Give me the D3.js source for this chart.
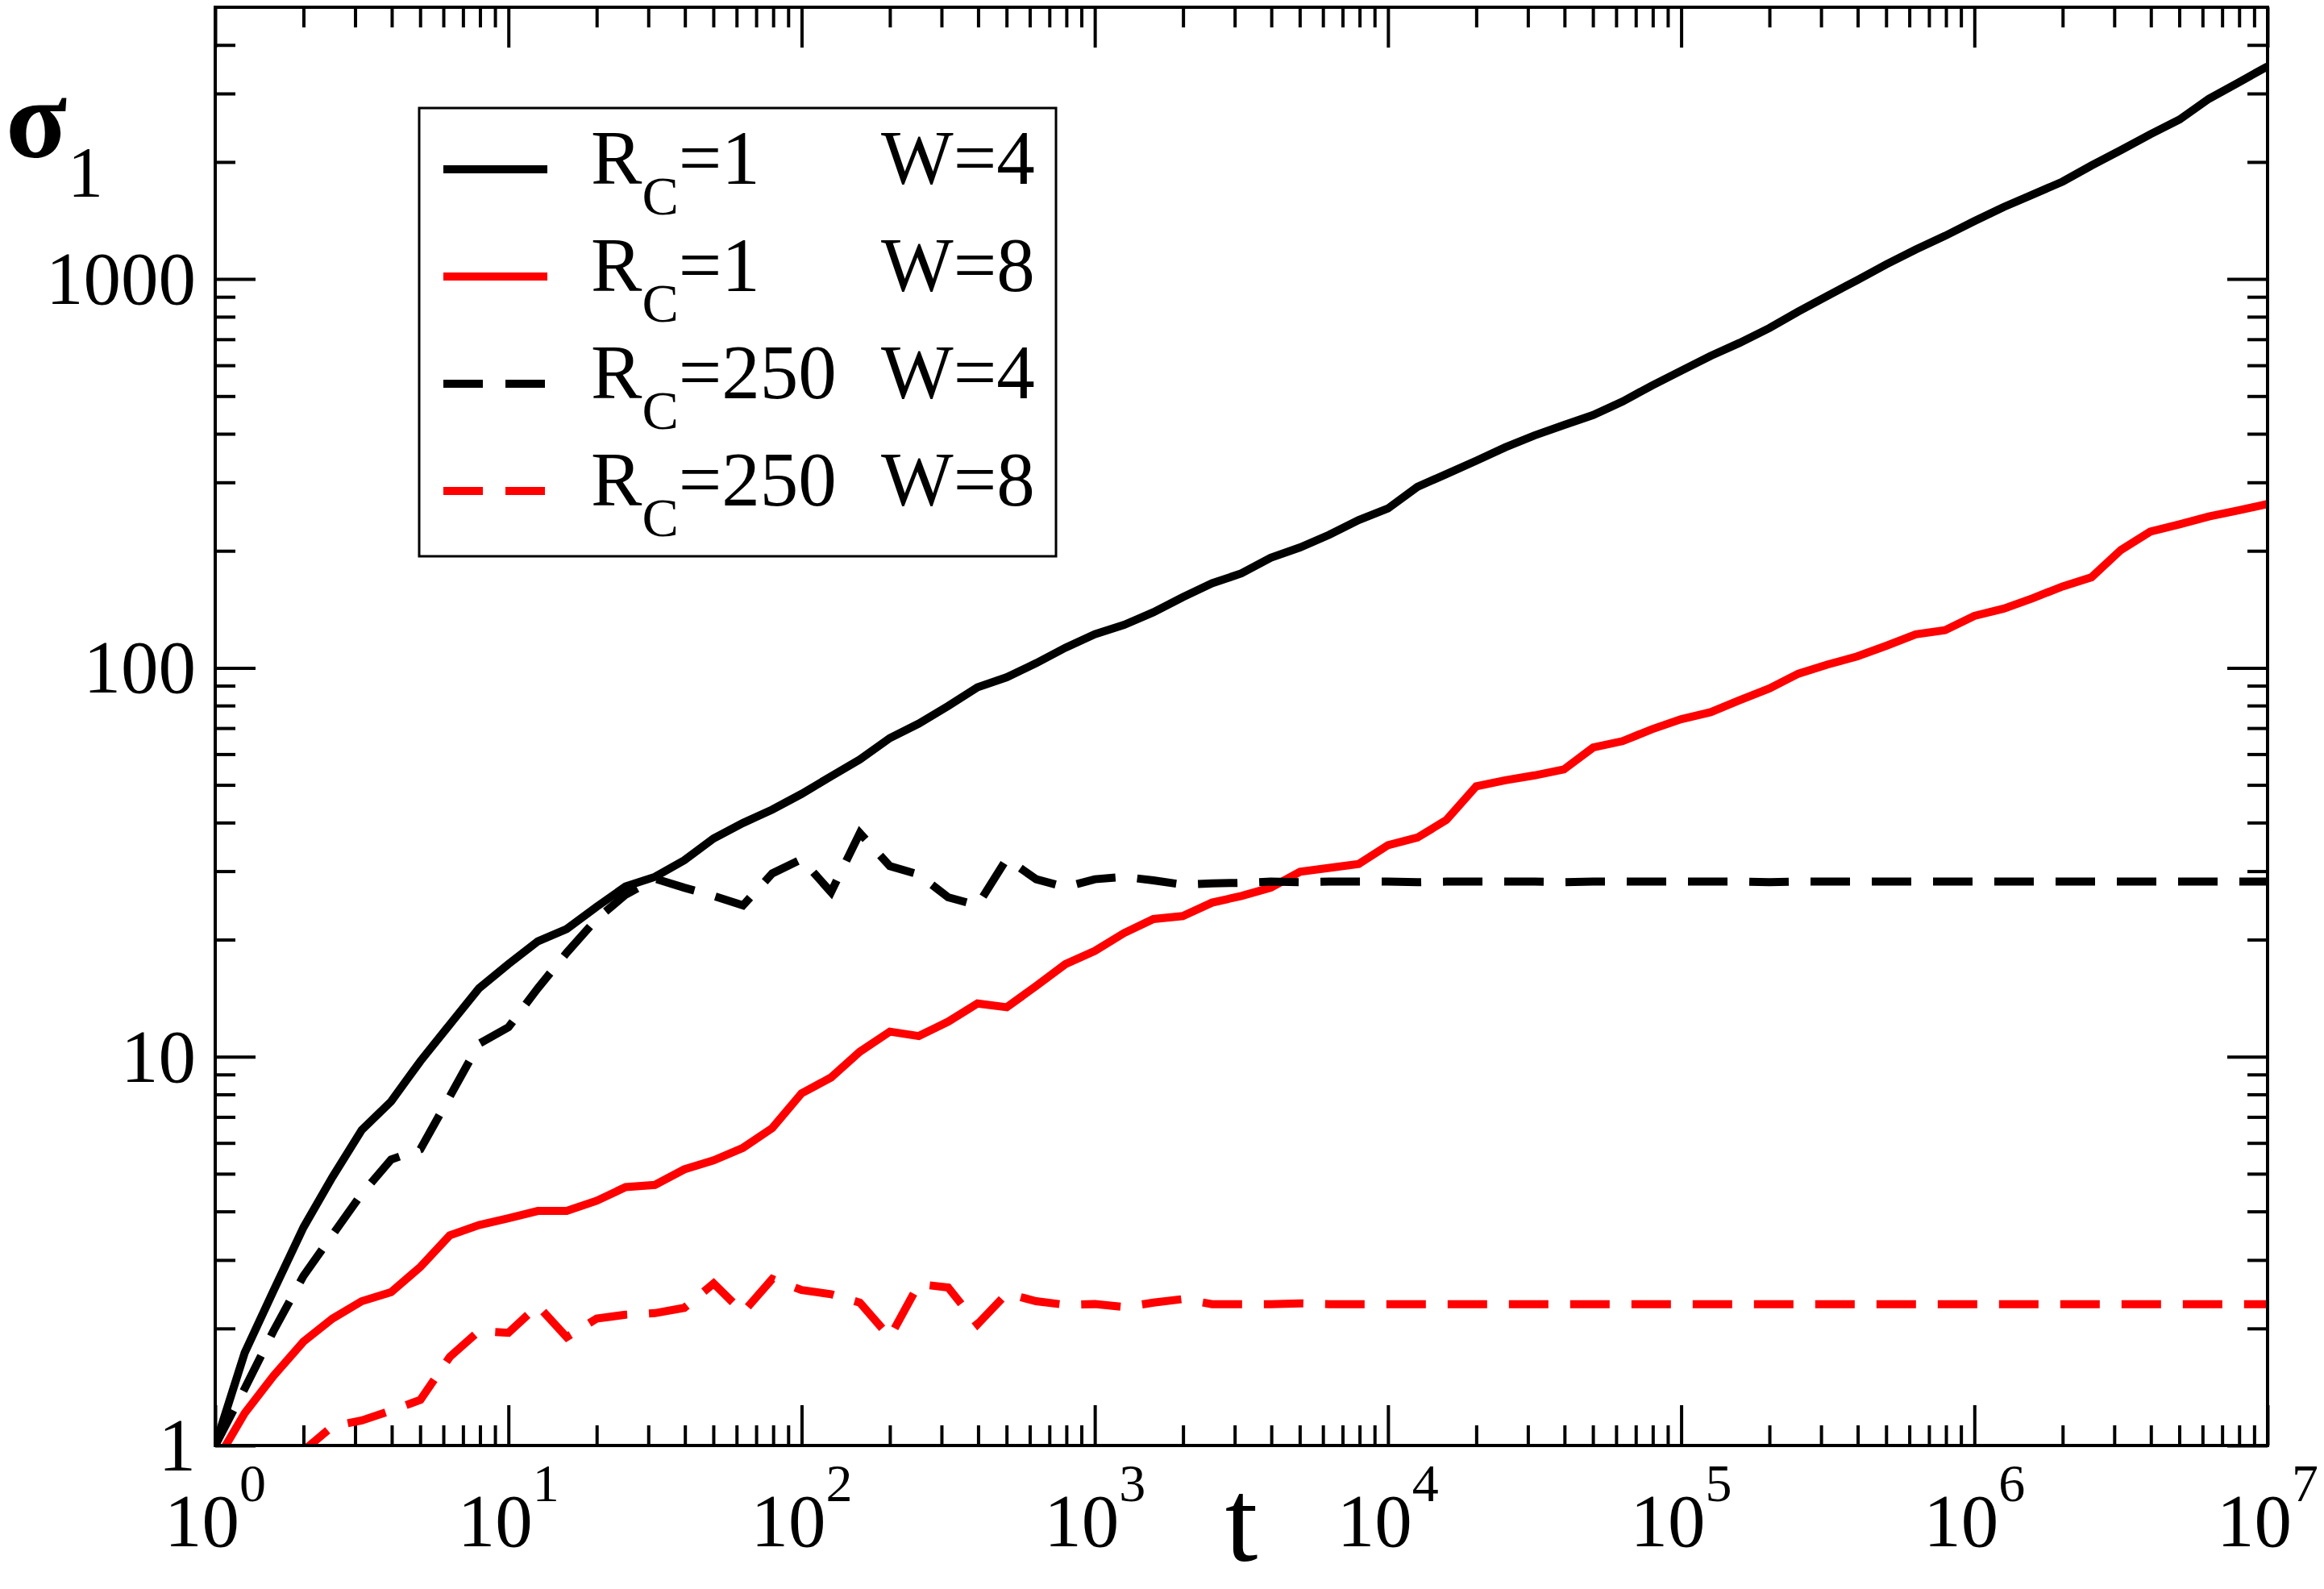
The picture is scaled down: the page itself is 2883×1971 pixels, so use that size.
<!DOCTYPE html>
<html>
<head>
<meta charset="utf-8">
<script src="https://d3js.org/d3.v7.min.js"></script>
<style>
  body { margin: 0; background: #fff; }
  text { font-family: "Liberation Serif", "Times New Roman", serif; fill: #000; }
</style>
</head>
<body>
<div id="chart"></div>
<script>
// Time axis (10 samples per decade)
var tValues = [1, 1.26, 1.58, 2, 2.51, 3.16, 3.98, 5.01, 6.31, 7.94,
  10, 12.6, 15.8, 20, 25.1, 31.6, 39.8, 50.1, 63.1, 79.4,
  100, 126, 158, 200, 251, 316, 398, 501, 631, 794,
  1000, 1259, 1585, 1995, 2512, 3162, 3981, 5012, 6310, 7943,
  1e4, 1.26e4, 1.58e4, 2e4, 2.51e4, 3.16e4, 3.98e4, 5.01e4, 6.31e4, 7.94e4,
  1e5, 1.26e5, 1.58e5, 2e5, 2.51e5, 3.16e5, 3.98e5, 5.01e5, 6.31e5, 7.94e5,
  1e6, 1.26e6, 1.58e6, 2e6, 2.51e6, 3.16e6, 3.98e6, 5.01e6, 6.31e6, 7.94e6,
  1e7];

// sigma_1 for each run
var sigmaRc1W4 = [1, 1.73, 2.5, 3.64, 4.9, 6.48, 7.67, 9.74, 12.1, 15.0,
  17.3, 19.8, 21.3, 24.3, 27.4, 29.0, 32.0, 36.4, 39.9, 43.2,
  47.4, 52.6, 58.1, 66.0, 71.9, 79.8, 89.1, 94.6, 102.8, 112.7,
  122, 129, 139, 152, 165, 175, 192, 204, 220, 240,
  257, 292, 315, 341, 369, 396, 421, 447, 484, 532,
  581, 634, 685, 748, 825, 906, 993, 1091, 1191, 1291,
  1409, 1532, 1649, 1781, 1959, 2145, 2356, 2571, 2908, 3199,
  3524];

var sigmaRc1W8 = [0.9, 1.21, 1.51, 1.85, 2.12, 2.35, 2.48, 2.88, 3.47, 3.69,
  3.84, 4.01, 4.01, 4.26, 4.62, 4.68, 5.13, 5.41, 5.83, 6.55,
  8.05, 8.84, 10.3, 11.6, 11.3, 12.3, 13.7, 13.4, 15.2, 17.3,
  18.7, 20.8, 22.6, 23.0, 24.9, 25.9, 27.2, 29.9, 30.6, 31.3,
  35.0, 36.6, 40.6, 49.6, 51.4, 52.9, 54.8, 62.4, 64.8, 69.5,
  73.8, 76.9, 82.5, 88.5, 96.6, 102, 107, 114, 122, 125,
  136, 142, 151, 162, 171, 201, 224, 234, 245, 254,
  264];

var sigmaRc250W4 = [1, 1.4, 1.97, 2.73, 3.48, 4.44, 5.44, 5.78, 7.9, 10.8,
  11.9, 15.0, 18.5, 22.6, 26.1, 28.7, 27.2, 25.9, 24.5, 29.6,
  32.2, 26.5, 37.6, 30.9, 29.4, 25.7, 24.5, 32.3, 28.6, 27.3,
  28.6, 29.0, 28.4, 27.7, 27.9, 28.0, 28.2, 28.1, 28.2, 28.2,
  28.2, 28.1, 28.2, 28.2, 28.2, 28.2, 28.1, 28.2, 28.2, 28.2,
  28.2, 28.2, 28.2, 28.1, 28.2, 28.2, 28.2, 28.2, 28.2, 28.2,
  28.2, 28.2, 28.2, 28.2, 28.2, 28.2, 28.2, 28.2, 28.2, 28.2,
  28.2];

var sigmaRc250W8 = [0.55, 0.65, 0.8, 0.97, 1.12, 1.16, 1.23, 1.31, 1.69, 1.97,
  1.95, 2.29, 1.90, 2.12, 2.17, 2.19, 2.26, 2.61, 2.2, 2.68,
  2.51, 2.45, 2.33, 1.90, 2.6, 2.55, 2.05, 2.46, 2.35, 2.30,
  2.31, 2.27, 2.33, 2.38, 2.31, 2.31, 2.31, 2.32, 2.31, 2.31,
  2.31, 2.31, 2.31, 2.31, 2.31, 2.31, 2.31, 2.31, 2.31, 2.31,
  2.31, 2.31, 2.31, 2.31, 2.31, 2.31, 2.31, 2.31, 2.31, 2.31,
  2.31, 2.31, 2.31, 2.31, 2.31, 2.31, 2.31, 2.31, 2.31, 2.31,
  2.31];

// Tick labels
var xTickExponents = ["0", "1", "2", "3", "4", "5", "6", "7"];
var yTickValues = [1, 10, 100, 1000];

// Legend entries
var legendRc = ["1", "1", "250", "250"];
var legendW = ["4", "8", "4", "8"];

var svgWidth = 2883;
var svgHeight = 1971;

var margin = {
  top: 9,
  right: 70,
  bottom: 178,
  left: 267
};

var width = svgWidth - margin.left - margin.right;
var height = svgHeight - margin.top - margin.bottom;

var svg = d3
  .select("#chart")
  .append("svg")
  .attr("width", svgWidth)
  .attr("height", svgHeight);

var chartGroup = svg
  .append("g")
  .attr("transform", `translate(${margin.left}, ${margin.top})`);

// Log scales
var xLogScale = d3.scaleLog()
  .domain([1, 1e7])
  .range([0, width]);

var yLogScale = d3.scaleLog()
  .domain([1, 5000])
  .range([height, 0]);

// Minor tick positions (2..9 within each decade)
var xMinor = [];
var yMinor = [];
for (var e = 0; e < 7; e++) {
  for (var k = 2; k < 10; k++) {
    xMinor.push(k * Math.pow(10, e));
    if (e < 4 && k * Math.pow(10, e) < 5000) yMinor.push(k * Math.pow(10, e));
  }
}
var xMajor = xTickExponents.map(d => Math.pow(10, +d));
var yMajor = yTickValues.concat([]);

// Inward ticks on all four sides
function addTicks(axisFn, scale, values, size, transform) {
  var g = chartGroup.append("g")
    .attr("transform", transform)
    .call(axisFn(scale).tickValues(values).tickSize(size).tickSizeOuter(0).tickFormat(""));
  g.select(".domain").remove();
  g.selectAll(".tick line")
    .attr("stroke", "#000")
    .attr("stroke-width", 4);
}

addTicks(d3.axisBottom, xLogScale, xMajor, -50, `translate(0, ${height})`);
addTicks(d3.axisBottom, xLogScale, xMinor, -25, `translate(0, ${height})`);
addTicks(d3.axisTop, xLogScale, xMajor, -50, "translate(0, 0)");
addTicks(d3.axisTop, xLogScale, xMinor, -25, "translate(0, 0)");
addTicks(d3.axisLeft, yLogScale, yMajor, -50, "translate(0, 0)");
addTicks(d3.axisLeft, yLogScale, yMinor, -25, "translate(0, 0)");
addTicks(d3.axisRight, yLogScale, yMajor, -50, `translate(${width}, 0)`);
addTicks(d3.axisRight, yLogScale, yMinor, -25, `translate(${width}, 0)`);

// Clip the curves to the plot frame
chartGroup.append("clipPath")
  .attr("id", "plot-clip")
  .append("rect")
  .attr("width", width)
  .attr("height", height);

var line = d3.line()
  .x(d => xLogScale(d[0]))
  .y(d => yLogScale(d[1]));

var series = [
  { values: sigmaRc1W4, color: "#000000", dash: null },
  { values: sigmaRc1W8, color: "#ff0000", dash: null },
  { values: sigmaRc250W4, color: "#000000", dash: "49 27" },
  { values: sigmaRc250W8, color: "#ff0000", dash: "49 27" }
];

chartGroup.append("g")
  .attr("clip-path", "url(#plot-clip)")
  .selectAll("path")
  .data(series)
  .enter()
  .append("path")
  .attr("d", d => line(d3.zip(tValues, d.values)))
  .attr("fill", "none")
  .attr("stroke", d => d.color)
  .attr("stroke-width", 10)
  .attr("stroke-dasharray", d => d.dash);

// Frame
chartGroup.append("rect")
  .attr("width", width)
  .attr("height", height)
  .attr("fill", "none")
  .attr("stroke", "#000")
  .attr("stroke-width", 4);

// Y tick labels
chartGroup.selectAll(".ylabel")
  .data(yTickValues)
  .enter()
  .append("text")
  .attr("class", "ylabel")
  .attr("x", -24)
  .attr("y", d => yLogScale(d) + 31)
  .attr("text-anchor", "end")
  .attr("font-size", "93px")
  .text(d => d);

// X tick labels: 10 with superscript exponent
var xLabels = chartGroup.selectAll(".xlabel")
  .data(xTickExponents)
  .enter()
  .append("text")
  .attr("class", "xlabel")
  .attr("x", d => xLogScale(Math.pow(10, +d)))
  .attr("y", height + 125)
  .attr("text-anchor", "middle")
  .attr("font-size", "93px");

xLabels.append("tspan").text("10");
xLabels.append("tspan")
  .attr("dy", -56)
  .attr("font-size", "66px")
  .text(d => d);

// Axis titles
svg.append("text")
  .attr("x", margin.left + width / 2)
  .attr("y", 1936)
  .attr("text-anchor", "middle")
  .attr("font-size", "146px")
  .text("t");

svg.append("text")
  .attr("x", 7)
  .attr("y", 195)
  .attr("font-size", "140px")
  .attr("font-weight", "bold")
  .text("σ");

svg.append("text")
  .attr("x", 84)
  .attr("y", 243)
  .attr("font-size", "88px")
  .text("1");

// Legend
var legend = svg.append("g");

legend.append("rect")
  .attr("x", 520)
  .attr("y", 134)
  .attr("width", 790)
  .attr("height", 556)
  .attr("fill", "#fff")
  .attr("stroke", "#000")
  .attr("stroke-width", 3);

var rows = legend.selectAll(".row")
  .data(series)
  .enter()
  .append("g")
  .attr("class", "row")
  .attr("transform", (d, i) => `translate(0, ${210 + i * 133})`);

rows.append("line")
  .attr("x1", 550)
  .attr("x2", 679)
  .attr("stroke", d => d.color)
  .attr("stroke-width", 10)
  .attr("stroke-dasharray", d => d.dash ? "49 28" : null);

var rowText = rows.append("text")
  .attr("x", 733)
  .attr("y", 18)
  .attr("font-size", "95px");

rowText.append("tspan").text("R");
rowText.append("tspan")
  .attr("dy", 38)
  .attr("font-size", "68px")
  .text("C");
rowText.append("tspan")
  .attr("dy", -38)
  .text((d, i) => "=" + legendRc[i]);

rows.append("text")
  .attr("x", 1093)
  .attr("y", 18)
  .attr("font-size", "95px")
  .text((d, i) => "W=" + legendW[i]);
</script>
</body>
</html>
